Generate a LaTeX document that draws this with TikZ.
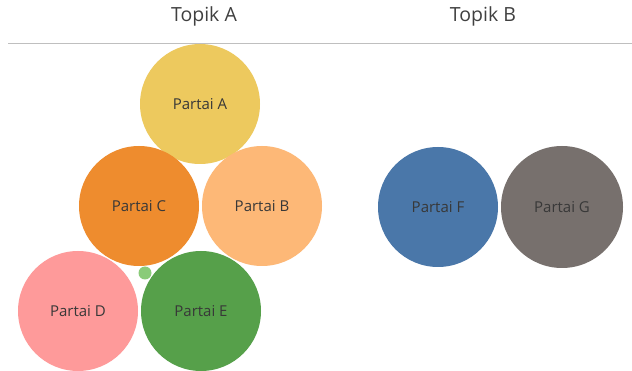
\documentclass[tikz,border=0pt]{standalone}
\usepackage{fontspec}
\setmainfont{Open Sans}
\begin{document}
\begin{tikzpicture}[x=1pt,y=-1pt,
  bubble/.style={circle,minimum size=120pt,inner sep=0pt,fill=#1,
    text=black!78,font=\fontsize{15}{17}\selectfont},
  header/.style={text=black!75,font=\fontsize{19.5}{22}\selectfont}]
\definecolor{cA}{HTML}{EDC95E}
\definecolor{cB}{HTML}{FDB877}
\definecolor{cC}{HTML}{EE8C2E}
\definecolor{cD}{HTML}{FE9A9A}
\definecolor{cE}{HTML}{56A04A}
\definecolor{cF}{HTML}{4A77A9}
\definecolor{cG}{HTML}{77706D}
\definecolor{cDot}{HTML}{8ACB79}
\useasboundingbox[fill=white] (0,0) rectangle (632,371);
% column headers and rule
\node[header] (ta) at (204,16) {Topik A};
\node[header] (tb) at (483,16) {Topik B};
\draw[black!25,line width=0.8pt] (8,43) -- (632,43);
% Topik A cluster
\node[bubble=cA] (pa) at (200,104) {Partai A};
\node[bubble=cC] (pc) at (139,206) {Partai C};
\node[bubble=cB] (pb) at (262,206) {Partai B};
\node[bubble=cD] (pd) at (78,311) {Partai D};
\node[bubble=cE] (pe) at (201,311) {Partai E};
\node[circle,fill=cDot,minimum size=13pt,inner sep=0pt] (dot) at (145,273) {};
% Topik B cluster
\node[bubble=cF] (pf) at (438,207) {Partai F};
\node[bubble=cG,minimum size=122pt] (pg) at (562,207) {Partai G};
\end{tikzpicture}
\end{document}
